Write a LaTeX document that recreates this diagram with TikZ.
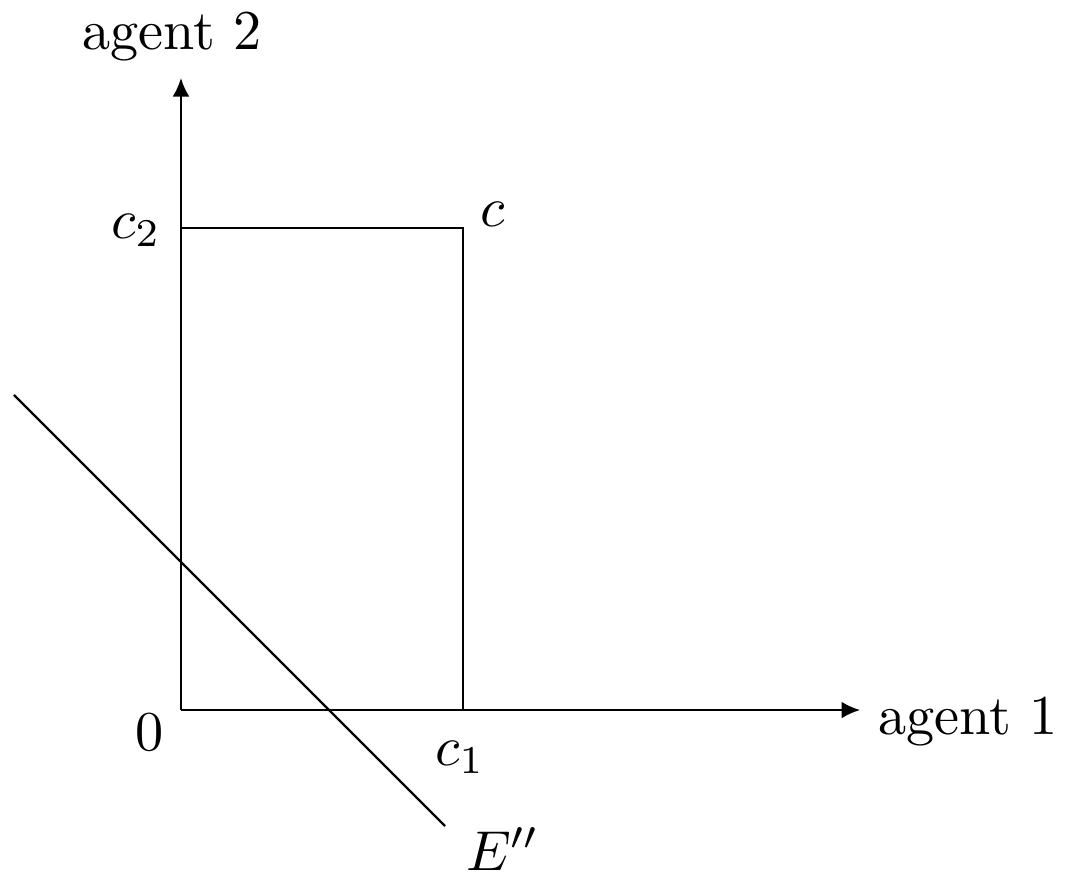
\documentclass[tikz,border=0pt]{standalone}
\usepackage{amsmath}
\usepackage{tikz}
\usetikzlibrary{arrows.meta,positioning}

\begin{document}
\begin{tikzpicture}[
  axis/.style={-{Latex[length=3.3pt,width=3pt]}, line width=0.4pt},
  edge/.style={line width=0.4pt},
  lbl/.style={inner sep=0pt}
]
\useasboundingbox (-1.131,-1.056) rectangle (5.525,4.4375);

% Points
\coordinate (o) at (0,0);
\coordinate (xend) at (4.244,0);
\coordinate (yend) at (0,3.95);
\coordinate (c) at (1.7625,3.0125);
\coordinate (c1) at (1.7625,0);
\coordinate (c2) at (0,3.0125);
\coordinate (e1) at (-1.044,1.969);
\coordinate (e2) at (1.65,-0.725);

% Axes
\draw[axis] (o) -- (xend);
\draw[axis] (o) -- (yend);

% Box and line
\draw[edge] (c2) -- (c) -- (c1);
\draw[edge] (e1) -- (e2);

% Labels
\node[lbl, anchor=base west] (lx) at (4.35,-0.156) {agent 1};
\node[lbl, anchor=base] (ly) at (-0.056,4.125) {agent 2};
\node[lbl, anchor=base] (lo) at (-0.194,-0.25) {$0$};
\node[lbl, anchor=base] (lc1) at (1.744,-0.344) {$c_1$};
\node[lbl, anchor=base east] (lc2) at (-0.119,2.95) {$c_2$};
\node[lbl, anchor=base] (lc) at (1.95,3.02) {$c$};
\node[lbl, anchor=base west] (le) at (1.775,-1.0) {$E''$};

\end{tikzpicture}
\end{document}
